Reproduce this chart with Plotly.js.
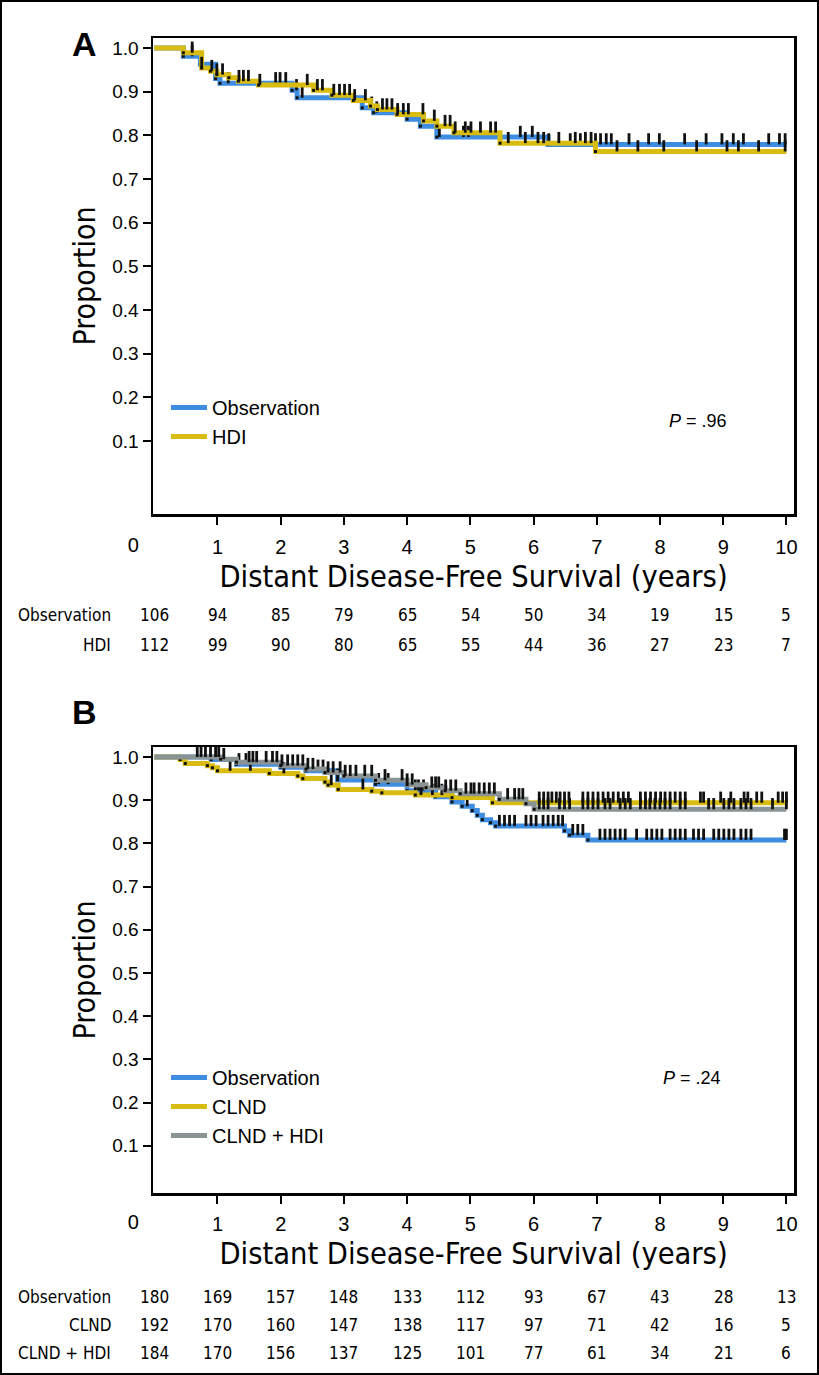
<!DOCTYPE html>
<html><head><meta charset="utf-8">
<script src="https://cdn.plot.ly/plotly-3.0.1.min.js"></script>
<style>html,body{margin:0;padding:0;background:#fff}#chart{width:819px;height:1375px}</style>
</head><body><div id="chart"></div>
<script>
// ---------- data ----------
const years = [0,1,2,3,4,5,6,7,8,9,10];
const yTickVals = [0.1,0.2,0.3,0.4,0.5,0.6,0.7,0.8,0.9,1.0];
const followUpEnd = 10;

// Panel A
const obsA_t = [0, 0.46, 0.73, 0.97, 1.04, 2.18, 2.26, 3.29, 3.47, 4.0, 4.21, 4.47, 6.23];
const obsA_s = [1.0, 0.981, 0.963, 0.93, 0.919, 0.903, 0.886, 0.863, 0.852, 0.837, 0.821, 0.796, 0.779];
const obsA_cens = [0.60, 1.17, 1.92, 1.99, 2.08, 2.25, 2.34, 3.44, 3.52, 4.51, 4.89, 4.97, 5.79, 5.98, 6.24, 6.58, 6.74, 6.98, 7.06, 7.15, 7.23, 7.51, 7.82, 7.99, 8.39, 8.73, 8.98, 9.16, 9.32, 9.72, 9.89, 9.98];
const hdiA_t = [0, 0.46, 0.75, 0.89, 0.99, 1.18, 1.33, 1.65, 2.52, 2.81, 3.15, 3.42, 3.53, 3.84, 4.26, 4.47, 4.74, 5.47, 6.98];
const hdiA_s = [1.0, 0.989, 0.954, 0.947, 0.939, 0.932, 0.924, 0.915, 0.903, 0.892, 0.88, 0.867, 0.859, 0.848, 0.833, 0.821, 0.806, 0.782, 0.763];
const hdiA_cens = [0.60, 0.75, 0.91, 0.99, 1.08, 1.34, 1.41, 1.49, 1.67, 2.42, 2.58, 2.66, 2.84, 2.93, 3.01, 3.09, 3.17, 3.34, 3.61, 3.68, 3.76, 3.85, 3.94, 4.02, 4.25, 4.43, 4.60, 4.68, 4.76, 4.92, 5.01, 5.16, 5.32, 5.40, 5.60, 5.87, 6.07, 6.16, 6.40, 6.66, 6.82, 6.91, 7.32, 7.65, 8.06, 8.58, 9.06, 9.24, 9.56, 9.98];
const riskA_obs = [106, 94, 85, 79, 65, 54, 50, 34, 19, 15, 5];
const riskA_hdi = [112, 99, 90, 80, 65, 55, 44, 36, 27, 23, 7];

// Panel B
const obsB_t = [0, 0.9, 1.3, 2.0, 2.4, 2.9, 3.5, 4.0, 4.45, 4.71, 4.87, 5.03, 5.11, 5.19, 5.32, 5.40, 6.49, 6.57, 6.86];
const obsB_s = [1.0, 0.994, 0.983, 0.976, 0.968, 0.947, 0.937, 0.922, 0.908, 0.896, 0.886, 0.876, 0.865, 0.855, 0.848, 0.840, 0.829, 0.819, 0.808];
const obsB_cens = [1.34, 1.45, 2.59, 2.67, 2.90, 3.55, 3.70, 4.13, 4.18, 4.26, 4.60, 4.95, 5.46, 5.54, 5.62, 5.70, 5.88, 5.96, 6.04, 6.15, 6.23, 6.31, 6.39, 6.46, 6.62, 6.70, 6.78, 7.05, 7.13, 7.21, 7.29, 7.37, 7.45, 7.63, 7.79, 7.87, 7.95, 8.03, 8.16, 8.24, 8.32, 8.40, 8.53, 8.61, 8.69, 8.85, 8.93, 9.01, 9.09, 9.17, 9.28, 9.36, 9.44, 9.97, 10.0];
const clndB_t = [0, 0.41, 0.49, 0.84, 0.92, 1.0, 1.82, 2.27, 2.35, 2.70, 2.75, 2.91, 3.44, 3.60, 4.13, 4.71, 5.35];
const clndB_s = [1.0, 0.994, 0.985, 0.980, 0.975, 0.968, 0.962, 0.956, 0.950, 0.942, 0.935, 0.925, 0.921, 0.917, 0.912, 0.906, 0.894];
const clndB_cens = [1.20, 1.52, 2.05, 2.80, 3.30, 4.22, 4.40, 4.55, 6.09, 6.16, 6.23, 6.29, 6.36, 6.42, 6.49, 6.56, 6.78, 6.86, 6.94, 7.02, 7.10, 7.18, 7.26, 7.34, 7.42, 7.50, 7.69, 7.77, 7.85, 7.93, 8.01, 8.08, 8.16, 8.24, 8.32, 8.40, 8.64, 8.69, 8.96, 9.12, 9.33, 9.39, 9.53, 9.61, 9.87, 9.94, 10.0];
const comboB_t = [0, 1.05, 1.3, 2.0, 2.4, 2.7, 3.0, 3.5, 4.0, 4.3, 4.6, 4.84, 5.46, 5.88, 6.01];
const comboB_s = [1.0, 0.995, 0.988, 0.980, 0.972, 0.964, 0.956, 0.946, 0.936, 0.929, 0.922, 0.915, 0.902, 0.892, 0.879];
const comboB_cens = [0.68, 0.74, 0.81, 0.89, 0.97, 1.02, 1.10, 1.50, 1.56, 1.62, 1.77, 1.87, 1.94, 2.02, 2.11, 2.19, 2.27, 2.35, 2.43, 2.51, 2.75, 2.83, 2.94, 3.02, 3.10, 3.19, 3.33, 3.44, 3.65, 3.92, 4.00, 4.08, 4.39, 4.45, 4.50, 4.61, 4.69, 4.77, 4.93, 5.01, 5.06, 5.14, 5.22, 5.30, 5.38, 5.59, 5.70, 5.77, 5.83, 6.09, 6.16, 6.23, 6.41, 6.49, 6.57, 6.78, 6.86, 6.94, 7.02, 7.13, 7.21, 7.37, 7.45, 7.53, 7.69, 7.77, 7.84, 7.92, 8.00, 8.08, 8.16, 8.32, 8.40, 8.77, 8.85, 9.01, 9.09, 9.17, 9.28, 9.36, 9.44, 9.78, 10.0];
const riskB_obs = [180, 169, 157, 148, 133, 112, 93, 67, 43, 28, 13];
const riskB_clnd = [192, 170, 160, 147, 138, 117, 97, 71, 42, 16, 5];
const riskB_combo = [184, 170, 156, 137, 125, 101, 77, 61, 34, 21, 6];

const pA = '<i>P</i> = .96';
const pB = '<i>P</i> = .24';

// ---------- styling ----------
const W = 819, H = 1375;
const px = v => v / W, py = v => 1 - v / H;
const C_BLUE = '#3f8de0', C_YEL = '#d8bc12', C_GRAY = '#8b9494';
const F_MAIN = 'Liberation Sans, Arial, Helvetica, sans-serif';
const F_NARROW = 'Liberation Sans Narrow, Arial Narrow, DejaVu Sans Condensed, sans-serif';
const tickLift = 0.013;

// panel geometry (pixels)
const A_TOP = 38, A_BOT = 514, A_Y1 = 48, A_STEP = 43.67;
const B_TOP = 747, B_BOT = 1193, B_Y1 = 757, B_STEP = 43.2;
const X_L = 153, X_R = 794;

function survAt(t, times, surv) {
  let v = surv[0];
  for (let i = 0; i < times.length; i++) if (times[i] <= t) v = surv[i];
  return v;
}

function curveTraces(times, surv, cens, name, color, xa, ya, legend) {
  const line = {
    x: times.concat([followUpEnd]), y: surv.concat([surv[surv.length - 1]]),
    type: 'scatter', mode: 'lines', line: {shape: 'hv', color: color, width: 5},
    name: name, xaxis: xa, yaxis: ya, legend: legend, hoverinfo: 'skip'
  };
  const events = {
    x: times.slice(1), y: surv.slice(1), type: 'scatter', mode: 'markers',
    marker: {symbol: 'square', size: 3, color: '#111'}, showlegend: false,
    xaxis: xa, yaxis: ya, hoverinfo: 'skip'
  };
  const censor = {
    x: cens, y: cens.map(t => survAt(t, times, surv) + tickLift), type: 'scatter', mode: 'markers',
    marker: {symbol: 'line-ns', size: 8, line: {width: 2.8, color: '#111'}}, showlegend: false,
    xaxis: xa, yaxis: ya, hoverinfo: 'skip'
  };
  return [line, events, censor];
}

const traces = [].concat(
  curveTraces(obsA_t, obsA_s, obsA_cens, 'Observation', C_BLUE, 'x', 'y', 'legend'),
  curveTraces(hdiA_t, hdiA_s, hdiA_cens, 'HDI', C_YEL, 'x', 'y', 'legend'),
  curveTraces(obsB_t, obsB_s, obsB_cens, 'Observation', C_BLUE, 'x2', 'y2', 'legend2'),
  curveTraces(clndB_t, clndB_s, clndB_cens, 'CLND', C_YEL, 'x2', 'y2', 'legend2'),
  curveTraces(comboB_t, comboB_s, comboB_cens, 'CLND + HDI', C_GRAY, 'x2', 'y2', 'legend2'),
  [{x: [], y: [], type: 'scatter', xaxis: 'x3', yaxis: 'y', showlegend: false},
   {x: [], y: [], type: 'scatter', xaxis: 'x4', yaxis: 'y2', showlegend: false}]
);

const xRange = [-0.02, 10.12];
function xAxis(anchor, standoff) {
  return {
    domain: [px(X_L), px(X_R)], anchor: anchor, range: xRange,
    tickvals: years.slice(1), ticks: 'outside', ticklen: 8, tickwidth: 2, tickcolor: '#000',
    showline: true, linecolor: '#000', linewidth: 2.5, mirror: true, zeroline: false, showgrid: false,
    tickfont: {family: F_MAIN, size: 20, color: '#000'}, ticklabelstandoff: standoff,
    title: {text: 'Distant Disease-Free Survival (years)', font: {family: F_NARROW, size: 30.5, color: '#000'}, standoff: 9}
  };
}
// overlay axis that carries only the "0" origin label, shifted left of the corner
function zeroAxis(anchor, over, standoff) {
  return {
    domain: [px(X_L), px(X_R)], anchor: anchor, overlaying: over, range: xRange,
    tickvals: [years[0]], ticktext: [String(years[0])], ticks: 'outside', ticklen: 8, tickcolor: 'rgba(0,0,0,0)',
    showline: false, zeroline: false, showgrid: false, ticklabelshift: -21,
    tickfont: {family: F_MAIN, size: 20, color: '#000'}, ticklabelstandoff: standoff
  };
}
function yAxis(top, bot, y1, step, anchor) {
  const range = [1 - (bot - y1) / (step * 10), 1 + (y1 - top) / (step * 10)];
  return {
    domain: [py(bot), py(top)], anchor: anchor, range: range,
    tickvals: yTickVals, tickformat: '.1f', ticks: 'outside', ticklen: 8, tickwidth: 2, tickcolor: '#000',
    showline: true, linecolor: '#000', linewidth: 2.5, mirror: true, zeroline: false, showgrid: false,
    tickfont: {family: F_MAIN, size: 19, color: '#000'}, ticklabelstandoff: 0,
    title: {text: 'Proportion', font: {family: F_NARROW, size: 30, color: '#000'}, standoff: 8}
  };
}

const annotations = [];
function riskRows(rows, xa, yPix) {
  rows.forEach((r, k) => {
    annotations.push({xref: 'paper', yref: 'paper', x: px(113), y: py(yPix[k]), xanchor: 'right', yanchor: 'middle',
      text: r.label, showarrow: false, font: {family: F_NARROW, size: 17, color: '#000'}});
    r.values.forEach((v, i) => annotations.push({xref: xa, yref: 'paper', x: years[i], y: py(yPix[k]),
      xanchor: 'center', yanchor: 'middle', text: String(v), showarrow: false,
      font: {family: F_NARROW, size: 17, color: '#000'}}));
  });
}
riskRows([{label: 'Observation', values: riskA_obs}, {label: 'HDI', values: riskA_hdi}], 'x', [615, 645]);
riskRows([{label: 'Observation', values: riskB_obs}, {label: 'CLND', values: riskB_clnd}, {label: 'CLND + HDI', values: riskB_combo}], 'x2', [1297, 1325, 1353]);

annotations.push(
  {xref: 'paper', yref: 'paper', x: px(70), y: py(23), text: '<b>A</b>', showarrow: false, font: {family: F_MAIN, size: 34, color: '#000'}},
  {xref: 'paper', yref: 'paper', x: px(70), y: py(712), text: '<b>B</b>', showarrow: false, font: {family: F_MAIN, size: 34, color: '#000'}},
  {xref: 'x', yref: 'y', x: 8.6, y: 0.145, text: pA, showarrow: false, font: {family: F_MAIN, size: 18, color: '#000'}},
  {xref: 'x2', yref: 'y2', x: 8.5, y: 0.258, text: pB, showarrow: false, font: {family: F_MAIN, size: 18, color: '#000'}}
);

const legendStyle = {xanchor: 'left', yanchor: 'top', bgcolor: 'rgba(0,0,0,0)',
  font: {family: F_MAIN, size: 20, color: '#000'}, itemwidth: 36, tracegroupgap: 0};

const layout = {
  width: W, height: H, margin: {l: 0, r: 0, t: 0, b: 0},
  paper_bgcolor: '#fff', plot_bgcolor: '#fff', showlegend: true,
  xaxis: xAxis('y', 5),
  yaxis: yAxis(A_TOP, A_BOT, A_Y1, A_STEP, 'x'),
  xaxis2: xAxis('y2', 3),
  yaxis2: yAxis(B_TOP, B_BOT, B_Y1, B_STEP, 'x2'),
  xaxis3: zeroAxis('y', 'x', 5),
  xaxis4: zeroAxis('y2', 'x2', 3),
  legend: Object.assign({x: px(166), y: py(388)}, legendStyle),
  legend2: Object.assign({x: px(166), y: py(1058)}, legendStyle),
  annotations: annotations,
  shapes: [{type: 'rect', xref: 'paper', yref: 'paper', x0: px(1), x1: px(818), y0: py(1374), y1: py(1), line: {color: '#000', width: 2}}]
};

Plotly.newPlot('chart', traces, layout, {staticPlot: true, displayModeBar: false});
</script>
</body></html>
